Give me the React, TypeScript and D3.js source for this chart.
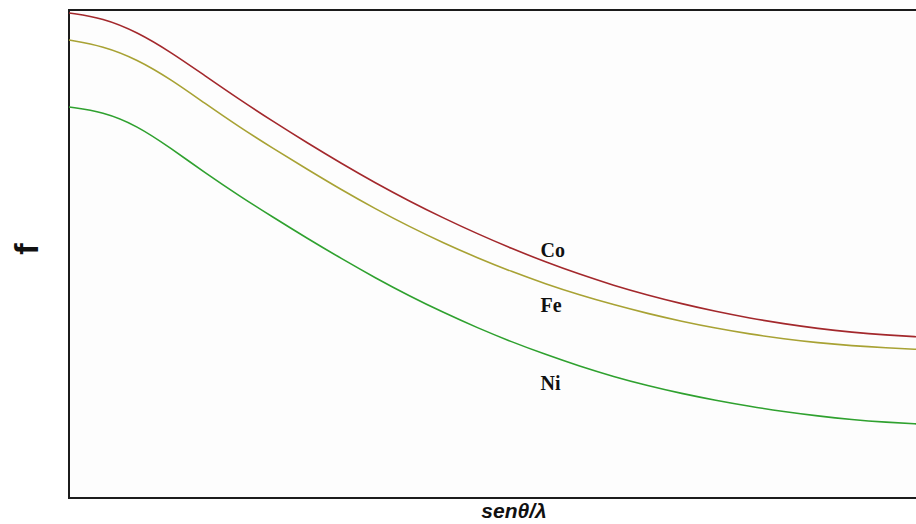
import React from "react";
import * as d3 from "d3";

// Atomic scattering factor f versus sinθ/λ for three transition metals
const sinThetaOverLambda = [
  0, 0.04, 0.08, 0.12, 0.16, 0.2, 0.24, 0.28, 0.32, 0.36, 0.4, 0.44, 0.48,
  0.52, 0.56, 0.6, 0.64, 0.68, 0.72, 0.76, 0.8, 0.84, 0.88, 0.92, 0.96, 1.0,
];

const fCo = [
  29.82, 29.51, 28.65, 27.4, 25.95, 24.51, 23.14, 21.83, 20.57, 19.37, 18.25,
  17.21, 16.24, 15.34, 14.51, 13.75, 13.07, 12.47, 11.94, 11.47, 11.06, 10.71,
  10.42, 10.19, 10.02, 9.9,
];

const fFe = [
  28.16, 27.79, 26.97, 25.73, 24.25, 22.81, 21.48, 20.21, 18.95, 17.78, 16.68,
  15.68, 14.76, 13.92, 13.16, 12.48, 11.88, 11.34, 10.86, 10.44, 10.08, 9.78,
  9.54, 9.36, 9.23, 9.13,
];

const fNi = [
  24.04, 23.74, 22.89, 21.49, 19.99, 18.58, 17.25, 15.96, 14.72, 13.53, 12.42,
  11.4, 10.46, 9.6, 8.82, 8.1, 7.46, 6.9, 6.42, 6.0, 5.63, 5.31, 5.04, 4.82,
  4.66, 4.54,
];

const seriesNames = ["Co", "Fe", "Ni"];
const seriesColors = ["#a3282c", "#a8a234", "#2fa12f"];
const seriesValues = [fCo, fFe, fNi];
// where each curve label sits along the x axis
const labelAt = [0.56, 0.56, 0.56];

const W = 916;
const H = 524;
const left = 69;
const top = 10;
const bottom = 498;
const right = 920;

export default function App() {
  const x = d3.scaleLinear().domain([0, 1]).range([left, right]);
  const y = d3.scaleLinear().domain([0, 30]).range([bottom, top]);

  const line = d3
    .line<[number, number]>()
    .x((d) => x(d[0]))
    .y((d) => y(d[1]))
    .curve(d3.curveBasis);

  // baseline offset of each label from its curve, in pixels
  const labelOffsets = [-5, 28, 35];

  return (
    <svg
      width={W}
      height={H}
      style={{ position: "absolute", left: 0, top: 0, background: "#ffffff" }}
    >
      <rect
        x={left}
        y={top}
        width={right - left + 20}
        height={bottom - top}
        fill="#fdfdfd"
        stroke="#1c1c1c"
        strokeWidth={2}
      />
      {seriesValues.map((vals, i) => {
        const pts = sinThetaOverLambda.map(
          (s, j) => [s, vals[j]] as [number, number]
        );
        return (
          <path
            key={seriesNames[i]}
            d={line(pts) ?? ""}
            fill="none"
            stroke={seriesColors[i]}
            strokeWidth={1.6}
          />
        );
      })}
      {seriesValues.map((vals, i) => {
        const v = d3.scaleLinear().domain(sinThetaOverLambda).range(vals)(
          labelAt[i]
        );
        return (
          <text
            key={"lbl" + seriesNames[i]}
            x={x(labelAt[i]) - 5}
            y={y(v) + labelOffsets[i]}
            fontFamily="'Liberation Serif', 'Times New Roman', serif"
            fontWeight="bold"
            fontSize={20}
            fill="#111"
          >
            {seriesNames[i]}
          </text>
        );
      })}
      <text
        transform={`translate(38, 249) rotate(-90)`}
        textAnchor="middle"
        fontFamily="'Liberation Sans', Arial, sans-serif"
        fontWeight="bold"
        fontSize={34}
        fill="#111"
      >
        f
      </text>
      <text
        x={514}
        y={518}
        textAnchor="middle"
        fontFamily="'Liberation Sans', Arial, sans-serif"
        fontWeight="bold"
        fontStyle="italic"
        fontSize={21}
        fill="#111"
      >
        senθ/λ
      </text>
    </svg>
  );
}
